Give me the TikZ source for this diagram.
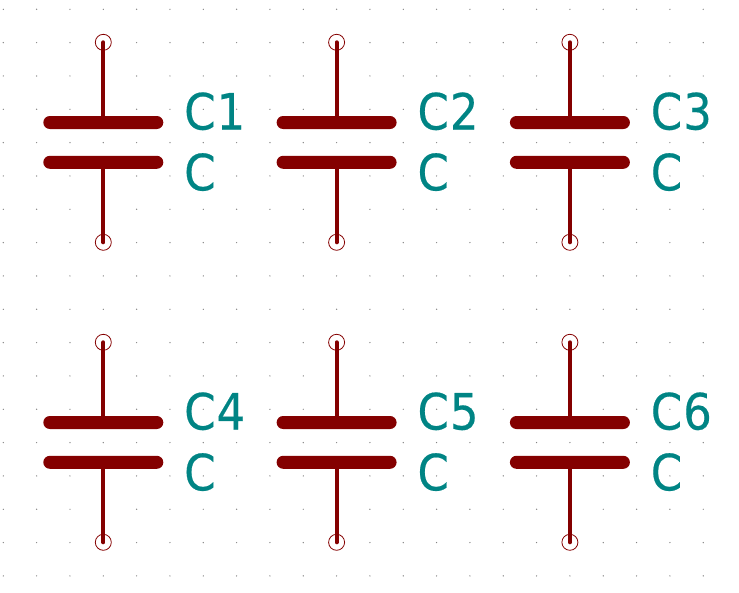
\documentclass[tikz,border=0pt]{standalone}
\usepackage{fontspec}
\setmainfont{DejaVu Sans}[FakeStretch=0.9,FakeBold=0.4,LetterSpace=2]
\usetikzlibrary{shapes.misc,positioning}
\definecolor{wire}{HTML}{840000}
\definecolor{field}{HTML}{008484}
\definecolor{griddot}{HTML}{848484}
\tikzstyle{pin} = [draw=wire, circle, line width=0.8pt, minimum size=16pt, inner sep=0]
\tikzstyle{plate} = [fill=wire, rounded rectangle, minimum width=120pt, minimum height=13pt, inner sep=0]
\tikzstyle{lead} = [draw=wire, line width=4pt, line cap=round]
\tikzstyle{fieldtext} = [text=field, inner sep=0, anchor=base west, font=\fontsize{50}{50}\selectfont]

\begin{document}
\begin{tikzpicture}[x=1pt, y=-1pt, node distance=233.3pt]
	  \useasboundingbox (0,0) rectangle (739,592);
	  % grid
	  \foreach \i in {0,...,21}
	    \foreach \j in {0,...,17}
	      \fill [griddot] (3.3+33.33*\i, 9.3+33.33*\j) circle (0.7pt);

	  \node [pin] (T1) at (103.3,42.3) {};
	  \node [pin, right of=T1] (T2) {};
	  \node [pin, right of=T2] (T3) {};
	  \node [pin, below of=T1, node distance=300pt] (T4) {};
	  \node [pin, right of=T4] (T5) {};
	  \node [pin, right of=T5] (T6) {};

	  \node [pin, below of=T1, node distance=200pt] (B1) {};
	  \node [pin, below of=T2, node distance=200pt] (B2) {};
	  \node [pin, below of=T3, node distance=200pt] (B3) {};
	  \node [pin, below of=T4, node distance=200pt] (B4) {};
	  \node [pin, below of=T5, node distance=200pt] (B5) {};
	  \node [pin, below of=T6, node distance=200pt] (B6) {};

	  \node [plate, below of=T1, node distance=80.2pt] (U1) {};
	  \node [plate, below of=T2, node distance=80.2pt] (U2) {};
	  \node [plate, below of=T3, node distance=80.2pt] (U3) {};
	  \node [plate, below of=T4, node distance=80.2pt] (U4) {};
	  \node [plate, below of=T5, node distance=80.2pt] (U5) {};
	  \node [plate, below of=T6, node distance=80.2pt] (U6) {};

	  \node [plate, below of=U1, node distance=39.8pt] (L1) {};
	  \node [plate, below of=U2, node distance=39.8pt] (L2) {};
	  \node [plate, below of=U3, node distance=39.8pt] (L3) {};
	  \node [plate, below of=U4, node distance=39.8pt] (L4) {};
	  \node [plate, below of=U5, node distance=39.8pt] (L5) {};
	  \node [plate, below of=U6, node distance=39.8pt] (L6) {};

	  \node [fieldtext, xshift=20.5pt, yshift=-7pt] (R1) at (U1.east) {C1};
	  \node [fieldtext, xshift=20.5pt, yshift=-7pt] (R2) at (U2.east) {C2};
	  \node [fieldtext, xshift=20.5pt, yshift=-7pt] (R3) at (U3.east) {C3};
	  \node [fieldtext, xshift=20.5pt, yshift=-7pt] (R4) at (U4.east) {C4};
	  \node [fieldtext, xshift=20.5pt, yshift=-7pt] (R5) at (U5.east) {C5};
	  \node [fieldtext, xshift=20.5pt, yshift=-7pt] (R6) at (U6.east) {C6};

	  \node [fieldtext, xshift=20.5pt, yshift=-28pt] (V1) at (L1.east) {C};
	  \node [fieldtext, xshift=20.5pt, yshift=-28pt] (V2) at (L2.east) {C};
	  \node [fieldtext, xshift=20.5pt, yshift=-28pt] (V3) at (L3.east) {C};
	  \node [fieldtext, xshift=20.5pt, yshift=-28pt] (V4) at (L4.east) {C};
	  \node [fieldtext, xshift=20.5pt, yshift=-28pt] (V5) at (L5.east) {C};
	  \node [fieldtext, xshift=20.5pt, yshift=-28pt] (V6) at (L6.east) {C};

	  \draw [lead] (T1.center) -- (U1);
	  \draw [lead] (T2.center) -- (U2);
	  \draw [lead] (T3.center) -- (U3);
	  \draw [lead] (T4.center) -- (U4);
	  \draw [lead] (T5.center) -- (U5);
	  \draw [lead] (T6.center) -- (U6);
	  \draw [lead] (B1.center) -- (L1);
	  \draw [lead] (B2.center) -- (L2);
	  \draw [lead] (B3.center) -- (L3);
	  \draw [lead] (B4.center) -- (L4);
	  \draw [lead] (B5.center) -- (L5);
	  \draw [lead] (B6.center) -- (L6);
	\end{tikzpicture}
\end{document}
